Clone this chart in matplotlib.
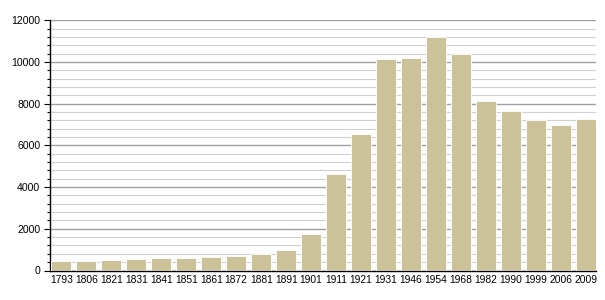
import matplotlib
matplotlib.use('Agg')
import numpy as np
from matplotlib import pyplot as plt
from matplotlib.ticker import MultipleLocator

years = ['1793', '1806', '1821', '1831', '1841', '1851', '1861', '1872', '1881', '1891', '1901',
         '1911', '1921', '1931', '1946', '1954', '1968', '1982', '1990', '1999', '2006', '2009']
population = [450, 460, 500, 545, 590, 600, 640, 690, 780, 975, 1740,
              4620, 6530, 10150, 10190, 11185, 10380, 8130, 7650, 7220, 6990, 7280]

plt.rcParams['font.family'] = ['Liberation Sans', 'DejaVu Sans']

fig = plt.figure(figsize=(6.05, 3.0), dpi=100)
ax = fig.add_axes([50 / 605, 29.5 / 300, 546 / 605, 250.2 / 300])

x = np.arange(len(years))
ax.bar(x, population, width=0.82, color='#ccc29a', edgecolor='white', linewidth=0.6, zorder=3)

ax.set_ylim(0, 12000)
ax.set_xlim(-0.45, len(years) - 0.6)
ax.yaxis.set_major_locator(MultipleLocator(2000))
ax.yaxis.set_minor_locator(MultipleLocator(400))
ax.grid(which='major', axis='y', color='#a0a0a0', linewidth=1.0, zorder=0)
ax.grid(which='minor', axis='y', color='#d0d0d0', linewidth=0.8, zorder=0)

ax.set_xticks(x)
ax.set_xticklabels(years)
ax.tick_params(axis='x', length=0, pad=3, labelsize=7.4)
ax.tick_params(axis='y', which='major', length=4, width=0.8, labelsize=7.6, pad=3)
ax.tick_params(axis='y', which='minor', length=2.5, width=0.8)

for s in ['top', 'right']:
    ax.spines[s].set_visible(False)
ax.spines['left'].set_linewidth(1.0)
ax.spines['bottom'].set_linewidth(1.0)

fig.savefig('out.png', dpi=100)
